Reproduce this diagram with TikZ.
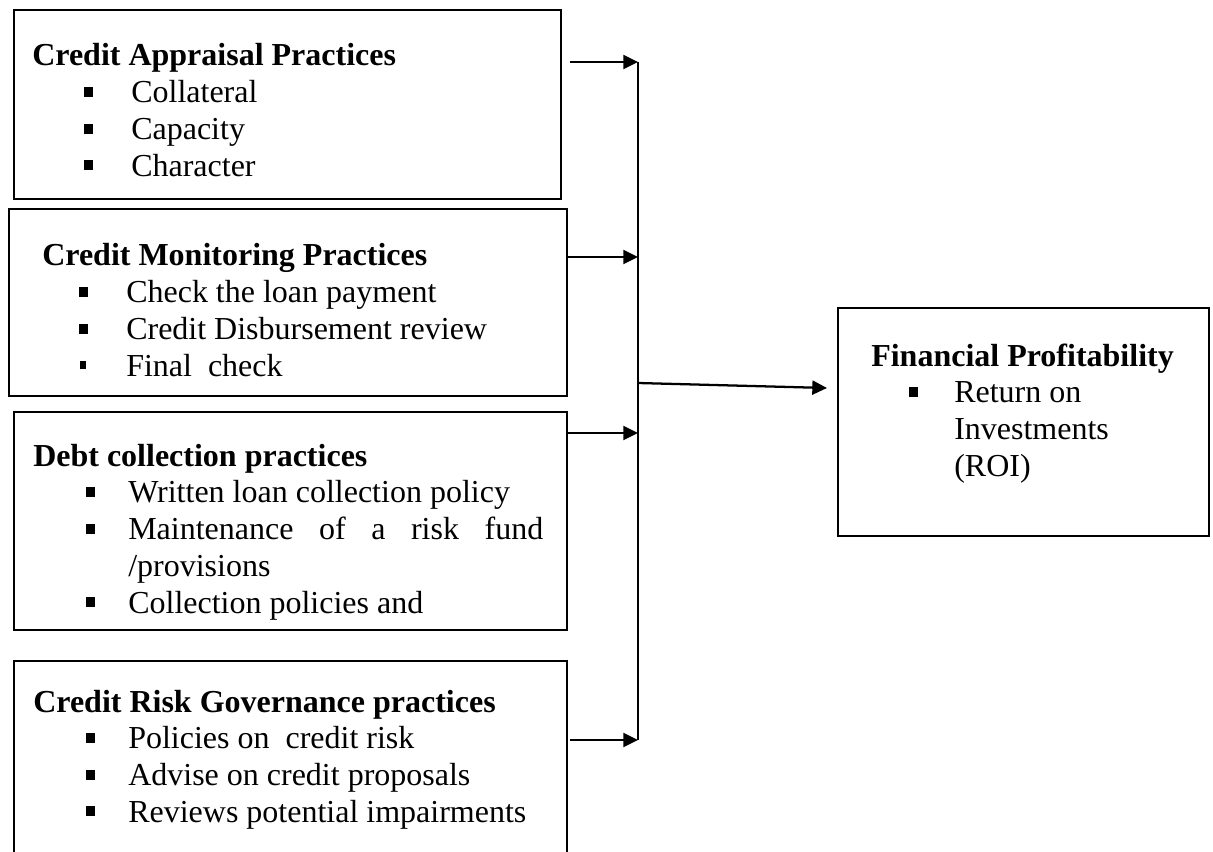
\documentclass[tikz,border=0pt]{standalone}
\usepackage{fontspec}
\setmainfont{Liberation Serif}
\usetikzlibrary{arrows.meta}
\newlength{\px}\setlength{\px}{0.75pt}
\newcommand{\sq}{\rule[6\px]{9\px}{10\px}}
\newcommand{\sqs}{\rule[7\px]{6\px}{8\px}}
\newcommand{\li}[3]{\\\makebox[#2\px][l]{\hspace*{#1\px}\sq}#3}
\newcommand{\lis}[3]{\\\makebox[#2\px][l]{\hspace*{#1\px}\sqs}#3}
\newcommand{\lc}[2]{\\\makebox[#1\px][l]{}#2}
\tikzset{
  box/.style={draw, line width=1.3pt, rectangle, inner sep=0pt, anchor=north west},
  txt/.style={inner sep=0pt, anchor=base west, font=\fontsize{24pt}{27.6pt}\selectfont},
  conn/.style={line width=1.7pt, -{Triangle[length=11pt,width=10.5pt]}},
  bus/.style={line width=1.2pt}
}
\begin{document}
\begin{tikzpicture}[x=0.75pt,y=-0.75pt]
\path[use as bounding box] (0,0) rectangle (1213,852);
\clip (0,0) rectangle (1213,852);
% boxes
\node[box, minimum width=547\px, minimum height=189\px] (b1) at (13,9) {};
\node[box, minimum width=558\px, minimum height=187\px] (b2) at (8,208) {};
\node[box, minimum width=553\px, minimum height=218\px] (b3) at (13,411) {};
\node[box, minimum width=553\px, minimum height=230\px] (b4) at (13,660) {};
\node[box, minimum width=371\px, minimum height=228\px] (r) at (837,307) {};
% texts
\node[txt] (t1) at (32,66) {\parbox[t]{520\px}{\textbf{Credit Appraisal Practices}\li{52}{99}{Collateral}\li{52}{99}{Capacity}\li{52}{99}{Character}}};
\node[txt] (t2) at (42,266) {\parbox[t]{520\px}{\textbf{Credit Monitoring Practices}\li{37}{84}{Check the loan payment}\li{37}{84}{Credit Disbursement review}\lis{38}{84}{Final\ \ check}}};
\node[txt] (t3) at (33,466) {\parbox[t]{530\px}{\textbf{Debt collection practices}\li{53}{95}{Written loan collection policy}\li{53}{95}{\makebox[415\px][s]{Maintenance of a risk fund}}\lc{95}{/provisions}\li{53}{95}{Collection policies and}}};
\node[txt] (t4) at (33,712) {\parbox[t]{530\px}{\textbf{Credit Risk Governance practices}\li{53}{95}{Policies on\ \ credit risk}\li{53}{95}{Advise on credit proposals}\li{53}{95}{Reviews potential impairments}}};
\node[txt] (tr) at (871,366) {\parbox[t]{330\px}{\textbf{Financial Profitability}\li{38}{83}{Return on}\lc{83}{Investments}\lc{83}{(ROI)}}};
% connector coordinates
\coordinate (s1) at (570,62);
\coordinate (s2) at (566,257);
\coordinate (s3) at (566,433);
\coordinate (s4) at (570,740);
\coordinate (e1) at (638,62);
\coordinate (e2) at (638,257);
\coordinate (e3) at (638,433);
\coordinate (e4) at (638,740);
\coordinate (o1) at (638,383);
\coordinate (o2) at (827,388);
% bus and arrows
\draw[bus] (e1) -- (e4);
\draw[conn] (s1) -- (e1);
\draw[conn] (s2) -- (e2);
\draw[conn] (s3) -- (e3);
\draw[conn] (s4) -- (e4);
\draw[conn] (o1) -- (o2);
\end{tikzpicture}
\end{document}
